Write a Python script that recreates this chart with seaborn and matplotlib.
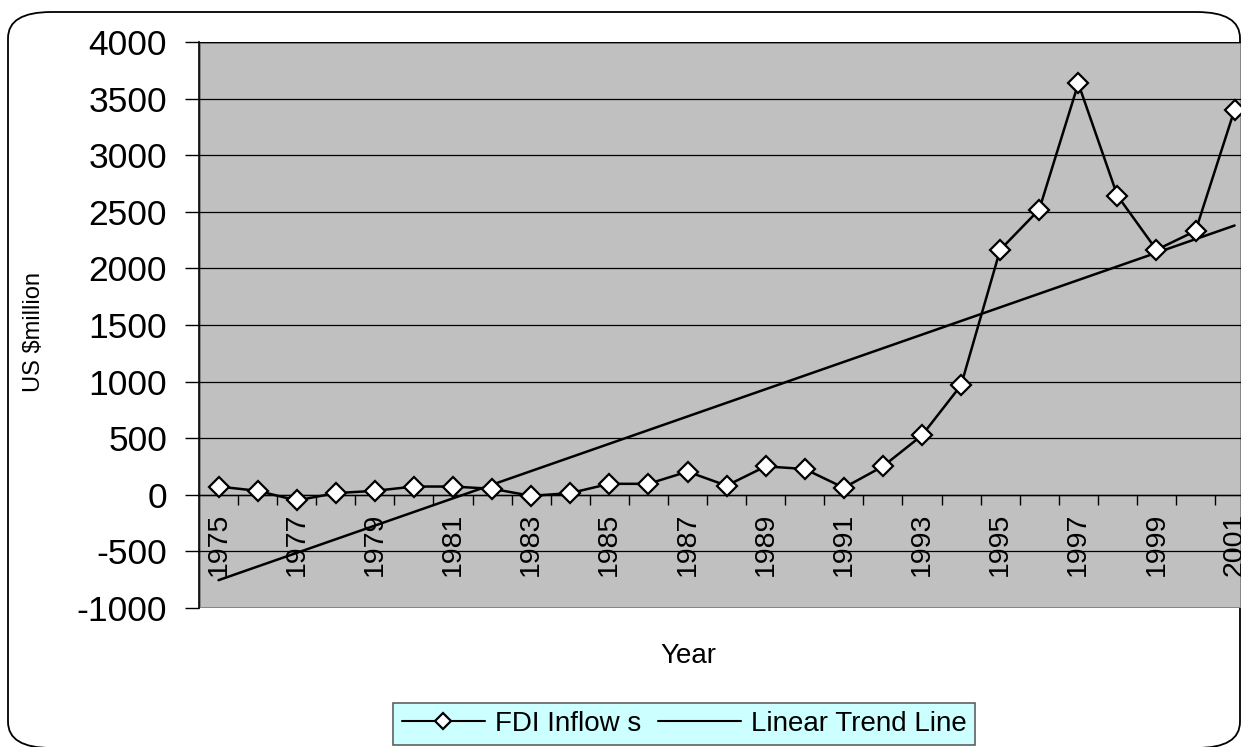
import numpy as np
import pandas as pd
import matplotlib
matplotlib.use("Agg")
import matplotlib.pyplot as plt
from matplotlib.patches import FancyBboxPatch, Rectangle
from matplotlib.lines import Line2D
import seaborn as sns

# ── Data ────────────────────────────────────────────────────────────────────
years = list(range(1975, 2002))
fdi_inflows = [73, 35, -50, 15, 35, 73, 73, 53, -9, 15, 97, 97, 205, 81,
               251, 228, 62, 251, 525, 968, 2164, 2520, 3634, 2643, 2164,
               2331, 3403]

df = pd.DataFrame({"pos": np.arange(len(years)), "year": years, "fdi": fdi_inflows})
slope, intercept = np.polyfit(df["pos"], df["fdi"], 1)
df["trend"] = intercept + slope * df["pos"]

sns.set_theme(style="white")
plt.rcParams["font.family"] = ["Liberation Sans", "DejaVu Sans"]
plt.rcParams["text.color"] = "black"
plt.rcParams["xtick.color"] = "black"
plt.rcParams["ytick.color"] = "black"
plt.rcParams["axes.unicode_minus"] = False

W, H = 1241, 747
fig = plt.figure(figsize=(W / 100, H / 100), dpi=100)

# rounded chart-area border
fig.patches.append(FancyBboxPatch((8 / W, 1 - 748 / H), 1232 / W, 736 / H,
                                  boxstyle="round,pad=0,rounding_size=0.035",
                                  transform=fig.transFigure, facecolor="white",
                                  edgecolor="black", linewidth=1.3, zorder=-5))

ax = fig.add_axes([199 / W, 1 - 608 / H, (W - 199) / W, 566 / H])
ax.set_zorder(1)
ax.set_facecolor("#C0C0C0")

for v in np.arange(-500, 4001, 500):
    ax.axhline(v, color="black", linewidth=0.9, zorder=1)

sns.lineplot(data=df, x="pos", y="trend", ax=ax, color="black", linewidth=1.8,
             zorder=3)
sns.lineplot(data=df, x="pos", y="fdi", ax=ax, color="black", linewidth=1.8,
             marker="D", markersize=10, markerfacecolor="white",
             markeredgecolor="black", markeredgewidth=1.6, zorder=4)

ax.set_xlim(-0.5, (W - 199) / 39.08 - 0.5)
ax.set_ylim(-1000, 4000)
ax.set_yticks(np.arange(-1000, 4001, 500))
ax.tick_params(axis="y", which="major", direction="out", length=10, width=1,
               color="black", labelsize=25.5, pad=13, left=True)

# category axis crossing at zero
ax.spines["bottom"].set_position(("data", 0))
ax.spines["bottom"].set_color("black")
ax.spines["bottom"].set_linewidth(1)
for s in ["top", "right"]:
    ax.spines[s].set_visible(False)
ax.spines["left"].set_color("black")
ax.spines["left"].set_linewidth(1.2)
ax.add_patch(Rectangle((0, 0), 1, 1, transform=ax.transAxes, fill=False,
                       edgecolor="#808080", linewidth=2, zorder=0.5))

ax.set_xticks(np.arange(0, len(years), 2))
ax.set_xticklabels([str(y) for y in years[::2]], rotation=90, fontsize=20.5)
ax.set_xticks(np.arange(0.5, len(years) - 1, 1), minor=True)
ax.tick_params(axis="x", which="major", length=0, pad=13, bottom=True)
ax.tick_params(axis="x", which="minor", direction="out", length=7, width=1,
               color="black", bottom=True)
ax.set_xlabel("")
ax.set_ylabel("")

fig.text(34 / W, 1 - 332 / H, "US $million", rotation=90, fontsize=17,
         ha="center", va="center")
fig.text(688 / W, 1 - 656 / H, "Year", fontsize=20, ha="center", va="center")

handles = [Line2D([], [], color="black", linewidth=1.5, marker="D", markersize=8.5,
                  markerfacecolor="white", markeredgecolor="black",
                  markeredgewidth=1.6),
           Line2D([], [], color="black", linewidth=1.5)]
leg = fig.legend(handles, ["FDI Inflow s", "Linear Trend Line"], loc="center",
                 bbox_to_anchor=(684 / W, 1 - 724 / H), ncol=2, fontsize=20,
                 frameon=True, fancybox=False, framealpha=1, handlelength=3.0,
                 columnspacing=0.6, handletextpad=0.35, borderpad=0.3,
                 borderaxespad=0)
leg.get_frame().set_facecolor("#CCFFFF")
leg.get_frame().set_edgecolor("#606060")
leg.get_frame().set_linewidth(1.2)

fig.savefig("out.png", dpi=100)
